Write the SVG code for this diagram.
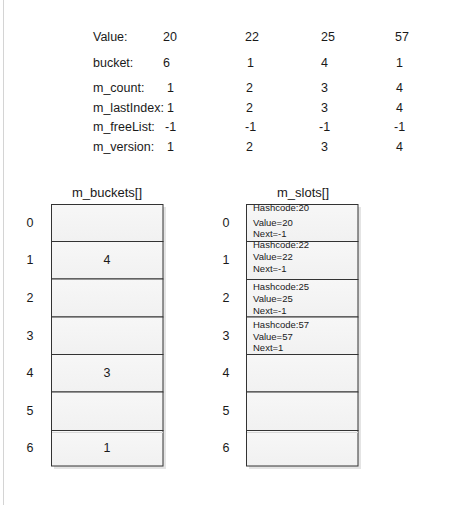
<svg xmlns="http://www.w3.org/2000/svg" width="471" height="505" viewBox="0 0 471 505">
<defs>
<linearGradient id="cell" x1="0" y1="0" x2="0" y2="1">
<stop offset="0" stop-color="#f7f7f7"/>
<stop offset="1" stop-color="#f1f1f1"/>
</linearGradient>
</defs>
<style>
text{font-family:"Liberation Sans",Arial,sans-serif;fill:#1a1a1a}
.t{font-size:12.5px}
.h{font-size:13px}
.s{font-size:9.5px}
.mid{text-anchor:middle}
.cell{fill:url(#cell);stroke:#333;stroke-width:1}
.shadow{fill:#e4e4e4}
</style>
<rect width="471" height="505" fill="#fff"/>
<line x1="3.5" y1="0" x2="3.5" y2="505" stroke="#d4d4d4" stroke-width="1"/>
<g id="table" class="t">
<text x="93" y="41">Value:</text>
<text x="163" y="41">20</text><text x="245" y="41">22</text><text x="321" y="41">25</text><text x="395" y="41">57</text>
<text x="93" y="67">bucket:</text>
<text x="163" y="67">6</text><text x="247" y="67">1</text><text x="321" y="67">4</text><text x="396" y="67">1</text>
<text x="93" y="92">m_count:</text>
<text x="167" y="92">1</text><text x="246" y="92">2</text><text x="321" y="92">3</text><text x="396" y="92">4</text>
<text x="93" y="112">m_lastIndex:</text>
<text x="167" y="112">1</text><text x="246" y="112">2</text><text x="321" y="112">3</text><text x="396" y="112">4</text>
<text x="93" y="131">m_freeList:</text>
<text x="165" y="131">-1</text><text x="245" y="131">-1</text><text x="319" y="131">-1</text><text x="394" y="131">-1</text>
<text x="93" y="151">m_version:</text>
<text x="167" y="151">1</text><text x="246" y="151">2</text><text x="321" y="151">3</text><text x="396" y="151">4</text>
</g>
<g id="buckets">
<text class="h mid" x="107" y="197">m_buckets[]</text>
<rect class="shadow" x="54" y="207" width="112" height="262"/>
<rect class="cell" x="51.5" y="204.5" width="111.5" height="37"/>
<rect class="cell" x="51.5" y="241.5" width="111.5" height="37.5"/>
<rect class="cell" x="51.5" y="279" width="111.5" height="38"/>
<rect class="cell" x="51.5" y="317" width="111.5" height="37.5"/>
<rect class="cell" x="51.5" y="354.5" width="111.5" height="37.5"/>
<rect class="cell" x="51.5" y="392" width="111.5" height="38.5"/>
<rect class="cell" x="51.5" y="430.5" width="111.5" height="35.5"/>
<line x1="52" y1="432.5" x2="163" y2="432.5" stroke="#d8d8d8"/>
<g class="t">
<text class="mid" x="30" y="227">0</text>
<text class="mid" x="30" y="264">1</text>
<text class="mid" x="30" y="302">2</text>
<text class="mid" x="30" y="340">3</text>
<text class="mid" x="30" y="377">4</text>
<text class="mid" x="30" y="415">5</text>
<text class="mid" x="30" y="452">6</text>
<text class="mid" x="107" y="264">4</text>
<text class="mid" x="107" y="377">3</text>
<text class="mid" x="107" y="452">1</text>
</g>
</g>
<g id="slots">
<text class="h mid" x="303" y="197">m_slots[]</text>
<rect class="shadow" x="249" y="207" width="112" height="262"/>
<rect class="cell" x="246.5" y="204.5" width="111.5" height="37"/>
<rect class="cell" x="246.5" y="241.5" width="111.5" height="38"/>
<rect class="cell" x="246.5" y="279.5" width="111.5" height="37.5"/>
<rect class="cell" x="246.5" y="317" width="111.5" height="37.5"/>
<rect class="cell" x="246.5" y="354.5" width="111.5" height="37.5"/>
<rect class="cell" x="246.5" y="392" width="111.5" height="38.5"/>
<rect class="cell" x="246.5" y="430.5" width="111.5" height="35.5"/>
<line x1="247" y1="432.5" x2="358" y2="432.5" stroke="#d8d8d8"/>
<g class="t">
<text class="mid" x="226" y="227">0</text>
<text class="mid" x="226" y="264">1</text>
<text class="mid" x="226" y="302">2</text>
<text class="mid" x="226" y="340">3</text>
<text class="mid" x="226" y="377">4</text>
<text class="mid" x="226" y="415">5</text>
<text class="mid" x="226" y="452">6</text>
</g>
<g class="s">
<text x="253" y="210.5">Hashcode:20</text>
<text x="253" y="226">Value=20</text>
<text x="253" y="237">Next=-1</text>
<text x="253" y="248">Hashcode:22</text>
<text x="253" y="260">Value=22</text>
<text x="253" y="271.5">Next=-1</text>
<text x="253" y="290">Hashcode:25</text>
<text x="253" y="301.5">Value=25</text>
<text x="253" y="313.5">Next=-1</text>
<text x="253" y="328">Hashcode:57</text>
<text x="253" y="339.5">Value=57</text>
<text x="253" y="350.5">Next=1</text>
</g>
</g>
</svg>
